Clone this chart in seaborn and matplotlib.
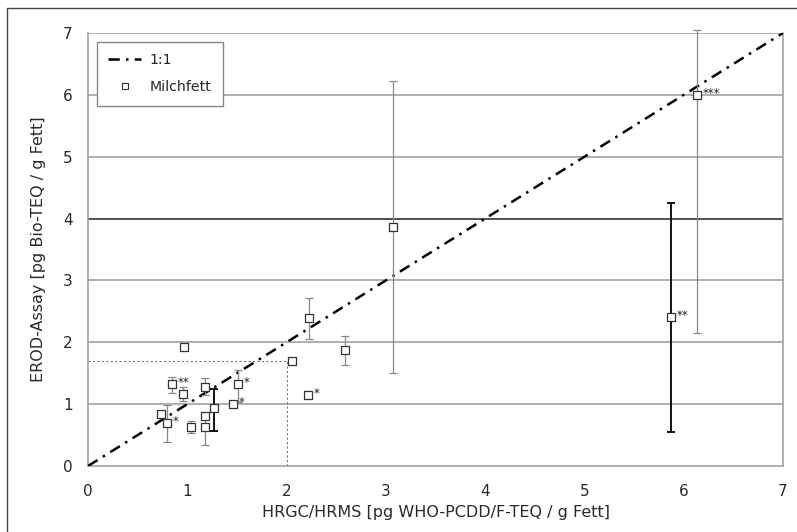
import matplotlib
matplotlib.use("Agg")
import matplotlib.pyplot as plt
import matplotlib.lines as mlines
import seaborn as sns
import pandas as pd
import numpy as np

# ---- data ----
x_vals = [6.13, 5.87, 3.07, 2.59, 2.23, 2.05, 0.97, 2.22, 1.51, 1.46, 1.27, 1.18, 1.18, 1.18, 1.04, 0.85, 0.96, 0.74, 0.80]
y_vals = [6.00, 2.41, 3.87, 1.87, 2.40, 1.70, 1.93, 1.15, 1.33, 1.00, 0.94, 1.28, 0.81, 0.63, 0.63, 1.33, 1.17, 0.84, 0.70]
y_low  = [2.15, 0.55, 1.50, 1.64, 2.05, None, None, 1.08, 1.04, None, 0.57, 1.15, None, 0.34, 0.53, 1.18, 1.05, None, 0.39]
y_high = [7.05, 4.25, 6.22, 2.10, 2.72, None, None, 1.22, 1.55, None, 1.24, 1.43, None, 0.81, 0.72, 1.44, 1.27, None, 0.99]
bar_dark = [False, True, False, False, False, False, False, False, False, False, True, False, False, False, False, False, False, False, False]
stars = ["***", "**", "", "", "", "", "", "*", "*", "*", "", "", "", "", "", "**", "", "", "*"]

ref_x = 2.0
ref_y = 1.7

x_ticks = [0, 1, 2, 3, 4, 5, 6, 7]
y_ticks = [0, 1, 2, 3, 4, 5, 6, 7]
x_label = "HRGC/HRMS [pg WHO-PCDD/F-TEQ / g Fett]"
y_label = "EROD-Assay [pg Bio-TEQ / g Fett]"
line_label = "1:1"
series_label = "Milchfett"

df = pd.DataFrame({"x": x_vals, "y": y_vals})

sns.set_style("white")
plt.rcParams['font.family'] = ['DejaVu Sans']

fig = plt.figure(figsize=(7.97, 5.32), dpi=100)
ax = fig.add_axes([88/797, 1-466/532, (783-88)/797, (466-33)/532])

grid_c = "#9a9a9a"
txt_c = "#2a2a2a"
dashdot = (0, (4.5, 2.5, 1.0, 2.5))

# horizontal grid
for yv in y_ticks[1:]:
    ax.axhline(yv, color=("#222222" if yv == 4 else grid_c), lw=1.1, zorder=1)

# reference dotted lines
ax.plot([0, ref_x], [ref_y, ref_y], color="#777777", lw=0.8, ls=(0, (2, 2)), zorder=2)
ax.plot([ref_x, ref_x], [0, ref_y], color="#777777", lw=0.8, ls=(0, (2, 2)), zorder=2)

# 1:1 line
ax.plot([0, 7], [0, 7], color="black", lw=1.8, ls=dashdot, zorder=3)

# error bars
for xi, yi, lo, hi, dark in zip(x_vals, y_vals, y_low, y_high, bar_dark):
    if lo is None:
        continue
    c = "black" if dark else "#888888"
    ax.errorbar([xi], [yi], yerr=[[yi - lo], [hi - yi]], fmt="none", ecolor=c,
                elinewidth=(1.3 if dark else 0.9), capsize=3, capthick=(1.3 if dark else 0.9),
                zorder=4, clip_on=False if hi <= 7.1 else True)

# markers
sns.scatterplot(data=df, x="x", y="y", marker="s", s=26, facecolor="white",
                edgecolor="#333333", linewidth=0.9, ax=ax, zorder=5, legend=False)

for xi, yi, st in zip(x_vals, y_vals, stars):
    if st:
        ax.annotate(st, (xi, yi), xytext=(4, 1), textcoords="offset points",
                    fontsize=8.5, color="#222222", va="center", ha="left", zorder=6)

ax.set_xlim(0, 7)
ax.set_ylim(0, 7)
ax.set_xticks(x_ticks)
ax.set_yticks(y_ticks)
ax.tick_params(axis="both", direction="inout", length=8, width=0.9, color=grid_c,
               labelsize=11, labelcolor=txt_c)
ax.tick_params(axis="x", pad=9)
ax.tick_params(axis="y", pad=7)
for s in ["left", "bottom", "right"]:
    ax.spines[s].set_color(grid_c)
    ax.spines[s].set_linewidth(1.1)
ax.spines["top"].set_visible(False)

ax.set_xlabel(x_label, fontsize=11.5, color=txt_c, labelpad=4)
ax.set_ylabel(y_label, fontsize=11.5, color=txt_c, labelpad=12)

h1 = mlines.Line2D([], [], color="black", lw=1.8, ls=dashdot)
h2 = mlines.Line2D([], [], color="#333333", marker="s", markersize=4.5, markerfacecolor="white",
                   markeredgewidth=0.8, ls="none")
leg = ax.legend([h1, h2], [line_label, series_label], loc="upper left",
                bbox_to_anchor=(0.013, 0.979), borderaxespad=0, fancybox=False,
                edgecolor="#888888", framealpha=1, fontsize=10.2, handlelength=2.3,
                labelspacing=0.9, borderpad=0.8, handletextpad=0.6)
leg.get_frame().set_linewidth(1.0)
leg.set_zorder(10)

# figure border (left and top)
fig.add_artist(mlines.Line2D([7/797, 7/797], [0, 1-8/532], color="#444444", lw=1.0))
fig.add_artist(mlines.Line2D([7/797, 1], [1-8/532, 1-8/532], color="#444444", lw=1.0))

fig.savefig("out.png", dpi=100)
